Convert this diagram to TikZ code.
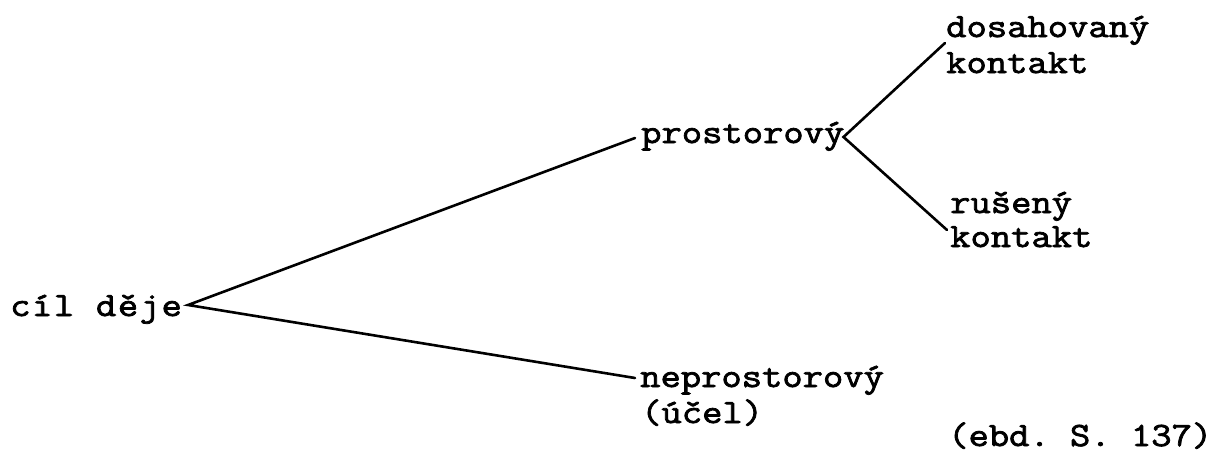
\documentclass[tikz,border=0pt]{standalone}
\usepackage{fontspec}
\setmonofont[FakeBold=2.2,FakeStretch=1.16]{Latin Modern Mono}
\begin{document}
\begin{tikzpicture}[x=1pt,y=-1pt,
  lbl/.style={anchor=base west,inner sep=0pt,font=\ttfamily\fontsize{34}{36}\selectfont},
  branch/.style={line width=2.6pt,line cap=round}]
\useasboundingbox (0,0) rectangle (1213,461);
% labels
\node[lbl] (cil) at (10,316) {\addfontfeatures{LetterSpace=4.5}cíl děje};
\node[lbl] (prost) at (641,143) {prostorový};
\node[lbl] (neprost) at (640,387) {neprostorový};
\node[lbl] (ucel) at (641,423) {(účel)};
\node[lbl] (dos) at (946,37) {dosahovaný};
\node[lbl] (kon1) at (946,73) {kontakt};
\node[lbl] (rus) at (950,213) {rušený};
\node[lbl] (kon2) at (950,247) {kontakt};
\node[lbl] (src) at (948,446) {(ebd. S. 137)};
% branches
\draw[branch] ([shift={(-6,-5)}]prost.base west) -- ([shift={(6,-11)}]cil.base east) -- ([shift={(-5,-9)}]neprost.base west);
\draw[branch] ([shift={(-1,6)}]dos.base west) -- ([shift={(-1,-6)}]prost.base east) -- ([shift={(-3,17)}]rus.base west);
\end{tikzpicture}
\end{document}
